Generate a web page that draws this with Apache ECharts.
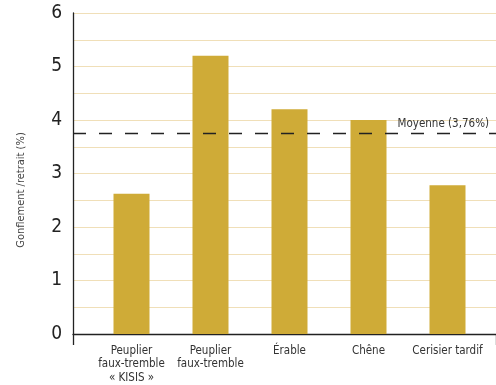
<!DOCTYPE html>
<html>
<head>
<meta charset="utf-8">
<script src="https://cdn.jsdelivr.net/npm/echarts@6/dist/echarts.min.js"></script>
<style>
  html, body { margin: 0; padding: 0; background: #fff; }
  #chart { width: 496px; height: 385px; }
</style>
</head>
<body>
<div id="chart"></div>
<script>
const categories = ["Peuplier\nfaux-tremble\n« KISIS »", "Peuplier\nfaux-tremble", "Érable", "Chêne", "Cerisier tardif"];
const swellValues = [2.62, 5.2, 4.2, 4.0, 2.78];
const averageValue = 3.76;
const averageLabel = "Moyenne (3,76%)";
const yTicks = [0, 1, 2, 3, 4, 5, 6];

const font = "'Liberation Sans Narrow', 'DejaVu Sans Condensed', sans-serif";
const ink = "#222";
const gridColor = "#f0dfb8";

var myChart = echarts.init(document.getElementById("chart"));
myChart.setOption({
  animation: false,
  grid: [
    // bars
    { left: 92, right: 9, top: 13, bottom: 51 },
    // axis frame + gridlines (right edge pushed past the canvas so the end tick is hidden)
    { left: 73, right: -3, top: 13, bottom: 51 },
  ],
  xAxis: [
    {
      gridIndex: 0,
      type: "category",
      data: categories,
      axisLine: { show: false },
      axisTick: { show: false },
      axisLabel: {
        margin: 10,
        fontFamily: font,
        fontSize: 11.5,
        lineHeight: 13.5,
        color: "#333",
        interval: 0,
      },
    },
    {
      gridIndex: 1,
      type: "value",
      min: 0,
      max: 1,
      interval: 1,
      position: "bottom",
      axisLine: { show: true, lineStyle: { color: ink, width: 1.3 } },
      axisTick: { show: true, length: 11, lineStyle: { color: ink, width: 1.3 } },
      axisLabel: { show: false },
      splitLine: { show: false },
    },
  ],
  yAxis: [
    {
      gridIndex: 0,
      type: "value",
      min: yTicks[0],
      max: yTicks[yTicks.length - 1],
      interval: 1,
      show: false,
    },
    {
      gridIndex: 1,
      type: "value",
      min: yTicks[0],
      max: yTicks[yTicks.length - 1],
      interval: 1,
      name: "Gonflement /retrait (%)",
      nameLocation: "middle",
      nameGap: 46,
      nameTextStyle: { fontFamily: font, fontSize: 11, color: "#444", padding: [0, 33, 0, 0] },
      axisLine: { show: true, lineStyle: { color: ink, width: 1.3 } },
      axisTick: { show: false },
      axisLabel: { margin: 11, fontFamily: font, fontSize: 19, color: ink },
      splitLine: { show: true, lineStyle: { color: gridColor, width: 1 } },
      minorTick: { show: false, splitNumber: 2 },
      minorSplitLine: { show: true, lineStyle: { color: gridColor, width: 1 } },
    },
  ],
  series: [
    {
      type: "bar",
      xAxisIndex: 0,
      yAxisIndex: 0,
      data: swellValues,
      barWidth: 36,
      itemStyle: { color: "#cfab37" },
    },
    {
      type: "line",
      xAxisIndex: 1,
      yAxisIndex: 1,
      data: [],
      markLine: {
        silent: true,
        symbol: "none",
        lineStyle: { color: ink, width: 1.3, type: [13, 13] },
        label: {
          position: "insideEndTop",
          formatter: averageLabel,
          fontFamily: font,
          fontSize: 11.5,
          color: "#333",
          distance: [7, 3],
        },
        data: [{ yAxis: averageValue }],
      },
    },
  ],
});
</script>
</body>
</html>
